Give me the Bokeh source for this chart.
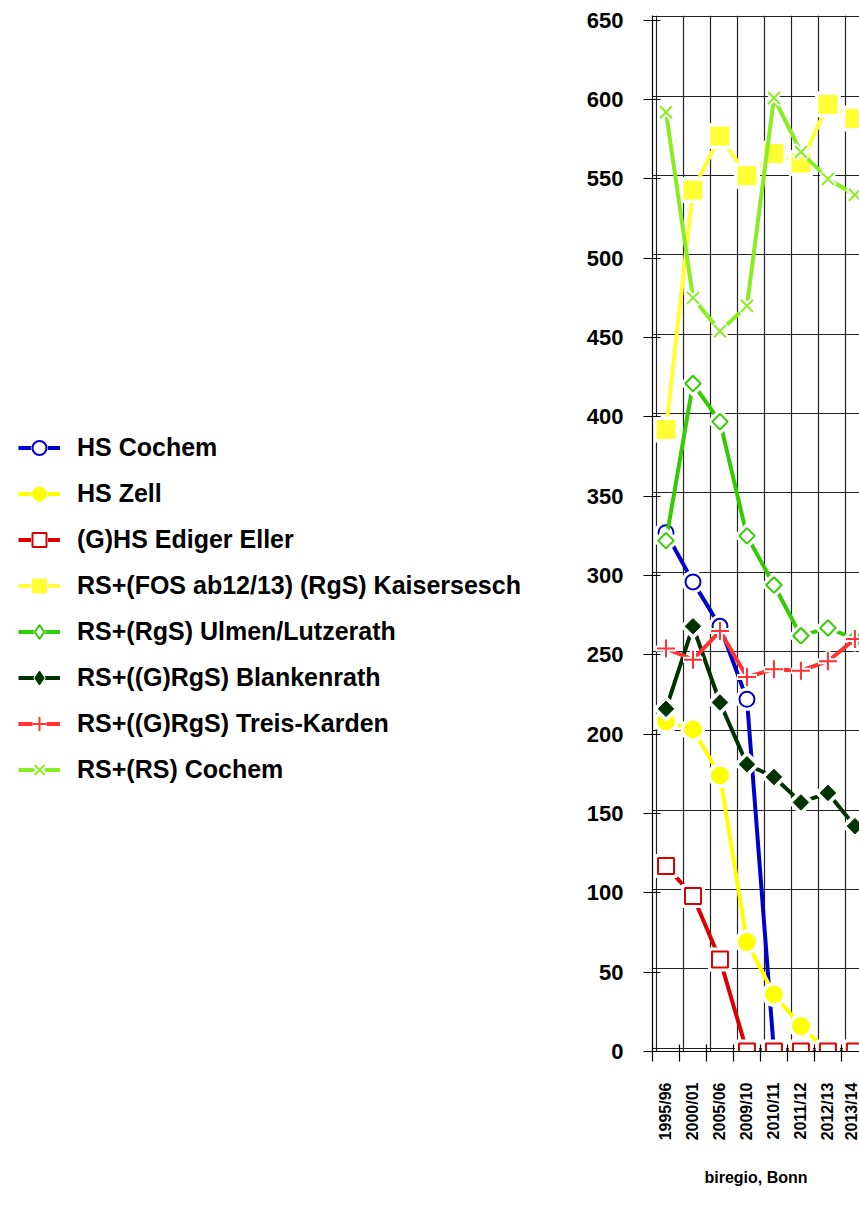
import numpy as np
from bokeh.plotting import figure
from bokeh.layouts import row
from bokeh.models import Range1d, FixedTicker, Legend, LegendItem, ColumnDataSource
from bokeh.embed import file_html
from bokeh.resources import INLINE

nan = float("nan")

categories = ["1995/96", "2000/01", "2005/06", "2009/10", "2010/11", "2011/12", "2012/13", "2013/14"]

hs_cochem = [327, 296, 268, 222, 0, nan, nan, nan]
hs_zell = [208, 203, 174, 69, 36, 16, 0, nan]
ghs_ediger_eller = [117, 98, 58, 0, 0, 0, 0, 0]
rs_fos_kaisersesch = [392, 543, 577, 552, 566, 560, 597, 588]
rs_rgs_ulmen = [322, 421, 397, 325, 294, 262, 267, 260]
rs_grgs_blankenrath = [216, 268, 220, 181, 173, 157, 163, 142]
rs_grgs_treis = [254, 247, 265, 236, 241, 240, 246, 260]
rs_rs_cochem = [592, 475, 454, 470, 601, 567, 550, 540]

y_ticks = list(range(0, 651, 50))

series = [
    ("HS Cochem", hs_cochem, "#0000CC", dict(marker="circle", size=15, fill_color="white", line_width=2)),
    ("HS Zell", hs_zell, "#FFFF00", dict(marker="circle", size=17, fill_color="#FFFF00", line_width=1)),
    ("(G)HS Ediger Eller", ghs_ediger_eller, "#DD0000", dict(marker="square", size=16, fill_color="white", line_width=2)),
    ("RS+(FOS ab12/13) (RgS) Kaisersesch", rs_fos_kaisersesch, "#FFFF33", dict(marker="square", size=18, fill_color="#FFFF33", line_width=1)),
    ("RS+(RgS) Ulmen/Lutzerath", rs_rgs_ulmen, "#33CC00", dict(marker="square", size=11, angle=np.pi / 4, fill_color="white", line_width=2, legend_marker="diamond")),
    ("RS+((G)RgS) Blankenrath", rs_grgs_blankenrath, "#003300", dict(marker="square", size=11, angle=np.pi / 4, fill_color="#003300", line_width=1, legend_marker="diamond")),
    ("RS+((G)RgS) Treis-Karden", rs_grgs_treis, "#FF3333", dict(marker="cross", size=18, fill_color=None, line_width=2)),
    ("RS+(RS) Cochem", rs_rs_cochem, "#88EE22", dict(marker="x", size=17, fill_color=None, line_width=2)),
]

FONT = "Liberation Sans"
H = 1205
LEG_W = 560
TOP = 15
FRAME_H = 1036
BOTTOM = H - TOP - FRAME_H

# ---------- chart ----------
p = figure(width=859 - LEG_W, height=H,
           x_range=Range1d(-0.5, 7.17), y_range=Range1d(0, 653),
           output_backend="svg", toolbar_location=None,
           min_border_left=652 - LEG_W, min_border_right=0, min_border_top=TOP,
           min_border_bottom=BOTTOM)
p.outline_line_color = None
p.background_fill_color = "white"

# grid (slightly offset "wall" as in the original chart)
p.xgrid.ticker = FixedTicker(ticks=[k - 0.5 + 0.15 for k in range(0, 9)])
p.ygrid.ticker = FixedTicker(ticks=[v + 2.2 for v in y_ticks])
for g in (p.xgrid[0], p.ygrid[0]):
    g.grid_line_color = "#222222"
    g.grid_line_width = 1.2

xa = p.xaxis[0]
xa.ticker = FixedTicker(ticks=list(range(len(categories))),
                        minor_ticks=[k - 0.5 for k in range(0, 9)])
xa.major_label_overrides = {i: c for i, c in enumerate(categories)}
xa.major_label_orientation = np.pi / 2
xa.major_tick_out = 0
xa.major_tick_in = 0
xa.minor_tick_out = 10
xa.minor_tick_in = 7
xa.minor_tick_line_color = "black"
xa.minor_tick_line_width = 1.2
xa.major_label_standoff = 21
xa.major_label_text_font = FONT
xa.major_label_text_font_style = "bold"
xa.major_label_text_font_size = "16px"
xa.major_label_text_color = "black"
xa.axis_line_color = "black"
xa.axis_line_width = 1.2
xa.axis_label = "biregio, Bonn"
xa.axis_label_text_font = FONT
xa.axis_label_text_font_style = "bold"
xa.axis_label_text_font_size = "16px"
xa.axis_label_text_color = "black"
xa.axis_label_standoff = 26

ya = p.yaxis[0]
ya.ticker = FixedTicker(ticks=y_ticks)
ya.major_tick_out = 9
ya.major_tick_in = 8
ya.minor_tick_out = 0
ya.minor_tick_in = 0
ya.major_tick_line_color = "black"
ya.major_tick_line_width = 1.2
ya.axis_line_color = "black"
ya.axis_line_width = 1.2
ya.major_label_standoff = 20
ya.major_label_text_font = FONT
ya.major_label_text_font_style = "bold"
ya.major_label_text_font_size = "22px"
ya.major_label_text_color = "black"

# ---------- legend panel ----------
lp = figure(width=LEG_W, height=H, x_range=Range1d(0, 1), y_range=Range1d(0, 1),
            output_backend="svg", toolbar_location=None,
            min_border_left=0, min_border_right=0, min_border_top=TOP,
            min_border_bottom=BOTTOM)
lp.axis.visible = False
lp.grid.visible = False
lp.outline_line_color = None

xs = list(range(len(categories)))
items = []
for name, vals, color, mk in series:
    size = mk["size"]
    angle = mk.get("angle", 0)
    rends = []
    for fig in (p, lp):
        if fig is p:
            s = ColumnDataSource(dict(x=xs, y=vals))
            marker = mk["marker"]
            ang = angle
        else:
            # legend-only stand-in, placed outside the visible range
            s = ColumnDataSource(dict(x=[-10], y=[-10]))
            marker = mk.get("legend_marker", mk["marker"])
            ang = 0
        ln = fig.line("x", "y", source=s, line_color=color, line_width=4)
        if marker in ("cross", "x"):
            halo = fig.scatter("x", "y", source=s, marker=marker, size=size + 2, angle=ang,
                               line_color="white", line_width=6, fill_color=None)
        else:
            halo = fig.scatter("x", "y", source=s, marker=marker, size=size + 5, angle=ang,
                               line_color="white", line_width=3, fill_color="white")
        sc = fig.scatter("x", "y", source=s, marker=marker, size=size, angle=ang,
                         line_color=color, line_width=mk["line_width"], fill_color=mk["fill_color"])
        rends.append([ln, halo, sc])
    items.append(LegendItem(label=name, renderers=rends[1]))

n = len(items)
ITEM_H = 35
SPACING = 11
leg_h = n * ITEM_H + (n - 1) * SPACING
leg_top = 447 - ITEM_H / 2
legend = Legend(items=items, location=(18, (TOP + FRAME_H) - (leg_top + leg_h)))
legend.padding = 0
legend.margin = 0
legend.spacing = SPACING
legend.glyph_width = 42
legend.glyph_height = ITEM_H
legend.label_height = ITEM_H
legend.label_standoff = 17
legend.label_text_font = FONT
legend.label_text_font_style = "bold"
legend.label_text_font_size = "25px"
legend.label_text_color = "black"
legend.border_line_alpha = 0
legend.background_fill_alpha = 0
lp.add_layout(legend)

layout = row(lp, p)
open("out.html", "w").write(file_html(layout, INLINE))
